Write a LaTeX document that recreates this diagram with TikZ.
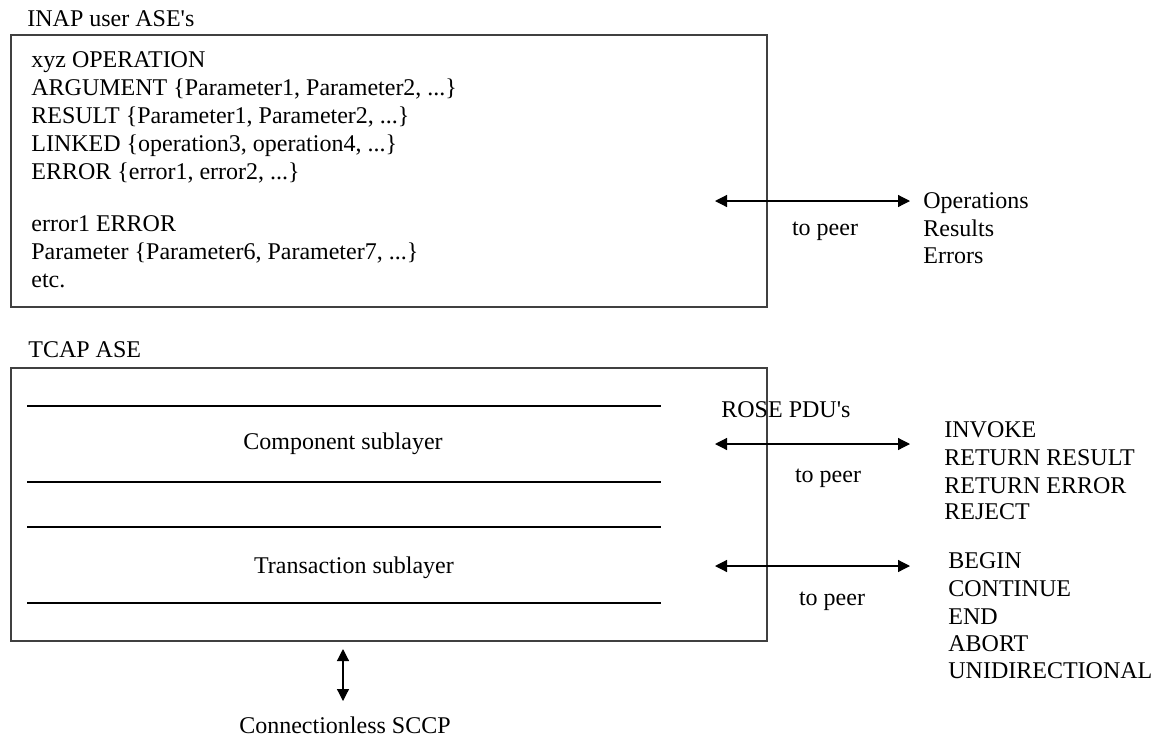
\documentclass[tikz,border=0pt]{standalone}
\usepackage{fontspec}
\setmainfont{Liberation Serif}
\usetikzlibrary{arrows.meta}

\begin{document}
\begin{tikzpicture}[
    x=0.5pt, y=-0.5pt, % one unit is one pixel of the sketch, y going down
    >={Triangle[length=6pt, width=6pt]}, % filled arrow tips
    ase box/.style={draw=black!75, line width=0.7pt}, % outer ASE frames
    layer line/.style={draw, line width=0.6pt}, % sublayer boundaries
    peer arrow/.style={<->, line width=0.6pt}, % double arrows
    txt/.style={font=\fontsize{12}{14}\selectfont, inner sep=0pt, anchor=base west}
  ]
  \useasboundingbox (0,0) rectangle (1157,740);

  % --- INAP user ASE's ---
  \node[txt] (inap title) at (27,26) {INAP user ASE\textquotesingle s};
  \draw[ase box] (11,35) rectangle (767,307);
  \foreach \txt/\y [count=\i] in {{xyz OPERATION}/67,
      {ARGUMENT \{Parameter1, Parameter2, ...\}}/95,
      {RESULT \{Parameter1, Parameter2, ...\}}/123,
      {LINKED \{operation3, operation4, ...\}}/151,
      {ERROR \{error1, error2, ...\}}/179,
      {error1 ERROR}/231,
      {Parameter \{Parameter6, Parameter7, ...\}}/259,
      {etc.}/287} {
    \node[txt] (inap line\i) at (31,\y) {\txt};
  }

  % --- Operations to peer ---
  \coordinate (op left) at (715,201);
  \coordinate (op right) at (910,201);
  \draw[peer arrow] (op left) -- (op right);
  \node[txt, anchor=base] (op peer) at (825,235) {to peer};
  \foreach \txt/\y [count=\i] in {Operations/208, Results/236, Errors/263} {
    \node[txt] (op item\i) at (923,\y) {\txt};
  }

  % --- TCAP ASE ---
  \node[txt] (tcap title) at (28,357) {TCAP ASE};
  \draw[ase box] (11,368) rectangle (767,641);
  \foreach \y in {406, 482, 527, 603} {
    \draw[layer line] (27,\y) -- (661,\y);
  }
  \node[txt, anchor=base] (component) at (343,449) {Component sublayer};
  \node[txt, anchor=base] (transaction) at (354,573) {Transaction sublayer};

  % --- ROSE PDU's ---
  \node[txt] (rose) at (721,417) {ROSE PDU\textquotesingle s};
  \coordinate (rose left) at (715,444);
  \coordinate (rose right) at (910,444);
  \draw[peer arrow] (rose left) -- (rose right);
  \node[txt, anchor=base] (rose peer) at (828,482) {to peer};
  \foreach \txt/\y [count=\i] in {INVOKE/437, {RETURN RESULT}/465,
      {RETURN ERROR}/493, REJECT/519} {
    \node[txt] (rose item\i) at (944,\y) {\txt};
  }

  % --- Transaction messages ---
  \coordinate (tr left) at (715,566);
  \coordinate (tr right) at (910,566);
  \draw[peer arrow] (tr left) -- (tr right);
  \node[txt, anchor=base] (tr peer) at (832,605) {to peer};
  \foreach \txt/\y [count=\i] in {BEGIN/568, CONTINUE/596, END/624,
      ABORT/651, UNIDIRECTIONAL/678} {
    \node[txt] (tr item\i) at (948,\y) {\txt};
  }

  % --- Down to SCCP ---
  \coordinate (sccp top) at (343,649);
  \coordinate (sccp bottom) at (343,701);
  \draw[peer arrow] (sccp top) -- (sccp bottom);
  \node[txt, anchor=base] (sccp) at (345,733) {Connectionless SCCP};

\end{tikzpicture}
\end{document}
